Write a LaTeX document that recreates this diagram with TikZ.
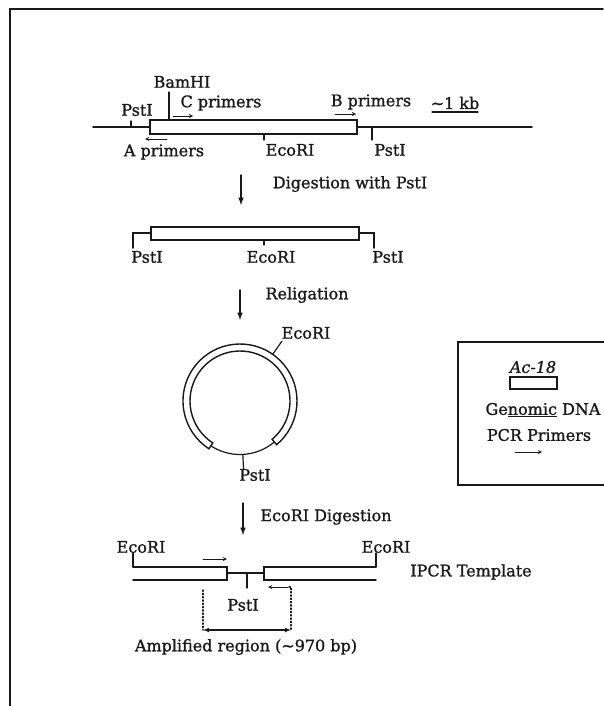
\documentclass[tikz,border=0pt]{standalone}
\usepackage{fontspec}
\setmainfont{DejaVu Serif}[FakeBold=1.2]
\usepackage{tikz}
\usetikzlibrary{arrows,calc}
\definecolor{mucden}{gray}{0.1}

\begin{document}
\begin{tikzpicture}[x=1pt,y=-1pt,line cap=round,
	every node/.style={font=\fontsize{16}{18}\selectfont,text=mucden,inner sep=0pt},
	dna/.style={mucden,line width=1.6pt},
	acbox/.style={mucden,line width=1.4pt},
	tick/.style={mucden,line width=1.2pt},
	buoc/.style={mucden,line width=1.5pt,-latex},
	moi/.style={mucden,line width=0.9pt,-stealth}]
	\useasboundingbox (0,0) rectangle (603,706);
	\draw [mucden, line width=1.6pt] (10,706)-- (10,9)-- (603,9);
	\draw [dna] (93,127)-- (532,127);
	\draw [acbox, fill=white] (150,120) rectangle (357,134);
	\draw [tick] (131,121)-- (131,127);
	\draw [tick] (169,120)-- (169,92);
	\draw [tick] (264,134)-- (264,140);
	\draw [tick] (372,127)-- (372,140);
	\draw [moi] (173,116)-- (193,116);
	\draw [moi] (335,114)-- (356,114);
	\draw [moi] (167,139)-- (145,139);
	\draw [tick] (432,112)-- (478,112);
	\node (pstA) at (137,110) {PstI};
	\node (bamA) at (182,82) {BamHI};
	\node (cprimer) at (221,103) {C primers};
	\node (bprimer) at (371,102) {B primers};
	\node (kb) at (455,103) {\textasciitilde1 kb};
	\node (aprimer) at (164,152) {A primers};
	\node (ecoA) at (290,150) {EcoRI};
	\node (pstB) at (390,150) {PstI};
	\coordinate (d1) at (241,175);
	\coordinate (d2) at (241,205);
	\draw [buoc] (d1)-- (d2);
	\node (digest) at (350,184) {Digestion with PstI};
	\draw [acbox] (151,227) rectangle (359,240);
	\draw [dna] (151,233)-- (133,233)-- (133,248);
	\draw [dna] (359,233)-- (374,233)-- (374,248);
	\draw [tick] (264,240)-- (264,245);
	\node (pstC) at (147,257) {PstI};
	\node (ecoB) at (271,257) {EcoRI};
	\node (pstD) at (388,257) {PstI};
	\coordinate (r1) at (240,290);
	\coordinate (r2) at (240,320);
	\draw [buoc] (r1)-- (r2);
	\node (religate) at (307,295) {Religation};
	\coordinate (ctr) at (240,401);
	\draw [acbox] ($(ctr)+(50:57)$) arc[start angle=50,end angle=-237,radius=57]
		-- ($(ctr)+(-237:50)$) arc[start angle=-237,end angle=50,radius=50] -- cycle;
	\draw [tick] ($(ctr)+(-237:53.5)$) arc[start angle=-237,end angle=-310,radius=53.5];
	\draw [tick] ($(ctr)+(-55:57)$)-- ($(ctr)+(-55:73)$);
	\draw [tick] ($(ctr)+(87:53.5)$)-- ($(ctr)+(87:69)$);
	\node (ecoC) at (306,333) {EcoRI};
	\node (pstE) at (255,475) {PstI};
	\coordinate (e1) at (243,503);
	\coordinate (e2) at (243,535);
	\draw [buoc] (e1)-- (e2);
	\node (ecodig) at (326,517) {EcoRI Digestion};
	\draw [tick] (133,553)-- (133,567);
	\draw [acbox] (133,567)-- (227,567)-- (227,580)-- (133,580);
	\draw [dna] (227,573)-- (264,573);
	\draw [tick] (247,573)-- (247,588);
	\draw [acbox] (376,567)-- (264,567)-- (264,580)-- (376,580);
	\draw [tick] (376,567)-- (376,553);
	\draw [moi] (203,559)-- (227,559);
	\draw [moi] (288,587)-- (268,587);
	\draw [mucden, dotted, line width=1.3pt] (289,587)-| (291,630);
	\draw [mucden, dotted, line width=1.3pt] (203,590)-- (203,630);
	\draw [mucden, line width=1.1pt, latex-latex] (203,630)-- (291,630);
	\node (ecoD) at (141,547) {EcoRI};
	\node (ecoE) at (386,547) {EcoRI};
	\node (ipcr) at (471,572) {IPCR Template};
	\node (pstF) at (243,605) {PstI};
	\node (amp) at (246,647) {Amplified region (\textasciitilde970 bp)};
	\draw [mucden, line width=2.2pt] (605,342)-- (458,342)-- (458,485)-- (605,485);
	\node (ac18) at (533,367) {\textit{Ac-18}};
	\draw [acbox] (510,377) rectangle (557,389);
	\node (genomic) at (543,410) {Ge\underline{nomic} DNA};
	\node (pcr) at (539,435) {PCR Primers};
	\draw [moi] (515,452)-- (542,452);
\end{tikzpicture}
\end{document}
